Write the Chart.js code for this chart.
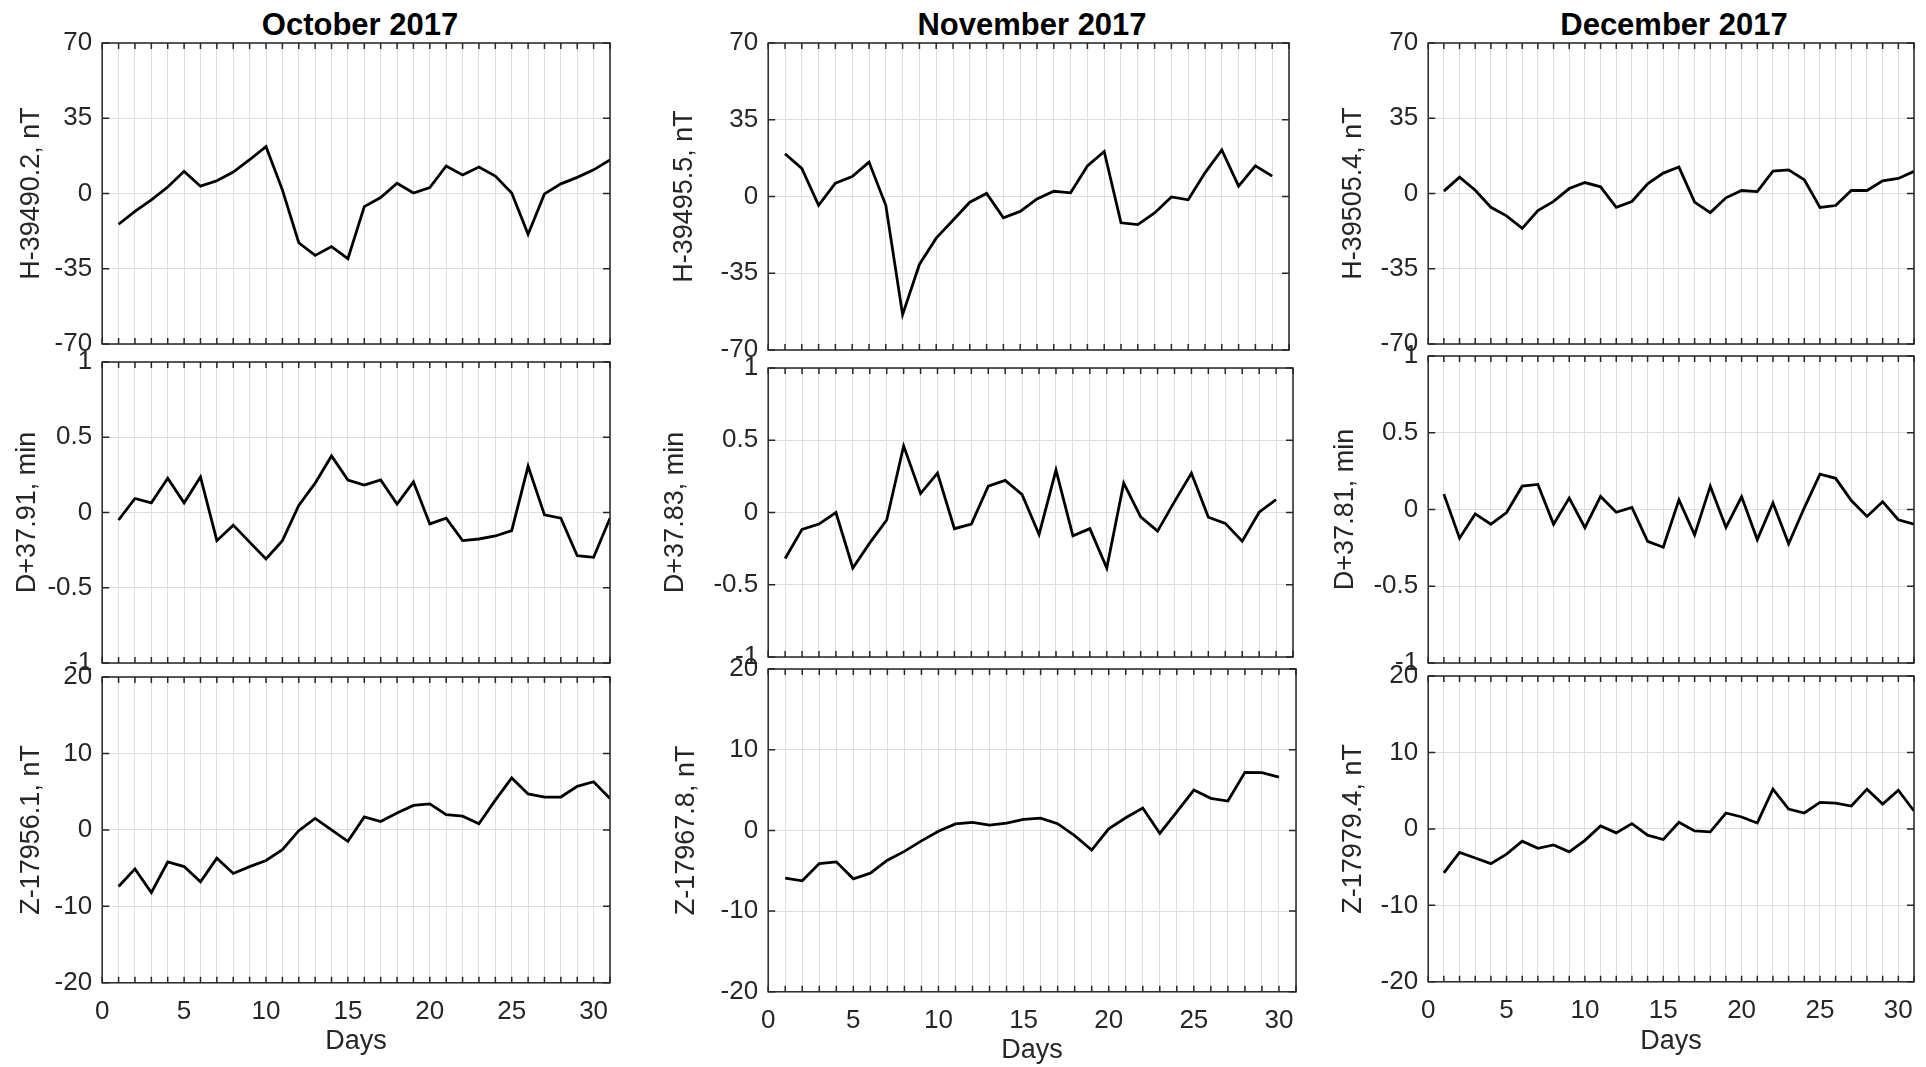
<!DOCTYPE html>
<html>
  <head>
    <title>Geomagnetic field, October - December 2017</title>
    <meta charset="utf-8">
    <style>
      body { margin: 0; background: #fff; width: 1926px; height: 1067px; position: relative; overflow: hidden;
             font-family: "Liberation Sans", Arial, sans-serif; }
      canvas { position: absolute; }
      .month { position: absolute; font-weight: bold; font-size: 31px; color: #000;
               transform: translate(-50%, -50%); white-space: nowrap; }
    </style>
  </head>
  <body>
    <div class="month" style="left:360px; top:25px">October 2017</div>
    <div class="month" style="left:1032px; top:25px">November 2017</div>
    <div class="month" style="left:1674px; top:25px">December 2017</div>

    <script src="https://cdn.jsdelivr.net/npm/chart.js"></script>
    <script>
      // days of each month
      const octDays = [1,2,3,4,5,6,7,8,9,10,11,12,13,14,15,16,17,18,19,20,21,22,23,24,25,26,27,28,29,30,31];
      const novDays = [1,2,3,4,5,6,7,8,9,10,11,12,13,14,15,16,17,18,19,20,21,22,23,24,25,26,27,28,29,30];
      const decDays = [1,2,3,4,5,6,7,8,9,10,11,12,13,14,15,16,17,18,19,20,21,22,23,24,25,26,27,28,29,30,31];

      // ticks
      const dayTicks = [0,1,2,3,4,5,6,7,8,9,10,11,12,13,14,15,16,17,18,19,20,21,22,23,24,25,26,27,28,29,30,31];
      const dayLabels = [0,5,10,15,20,25,30];
      const hTicks = [-70,-35,0,35,70];
      const dTicks = [-1,-0.5,0,0.5,1];
      const zTicks = [-20,-10,0,10,20];

      // H, nT
      const octH = [-14.3,-8.3,-3,3,10.3,3.4,5.9,10,15.7,21.8,1.7,-22.9,-28.8,-24.7,-30.3,-6.1,-1.9,4.8,0.2,2.8,12.8,8.6,12.3,8.1,0.2,-19,-0.2,4.5,7.5,11,15.6];
      const novH = [19.5,12.8,-4,6.1,9.1,15.7,-4,-53.9,-31,-19,-10.8,-2.6,1.4,-9.7,-6.8,-1.1,2.4,1.7,13.9,20.5,-12,-12.8,-7.5,-0.2,-1.5,10.8,21.2,4.7,14,9.3];
      const decH = [1.1,7.6,1.5,-6.4,-10.4,-16.2,-7.9,-3.7,2.3,5.1,3.1,-6.4,-3.7,4.5,9.5,12.3,-4,-8.9,-2,1.4,0.9,10.4,11,6.4,-6.5,-5.6,1.4,1.4,5.9,7,10.3];

      // D, min
      const octD = [-0.05,0.093,0.064,0.227,0.064,0.236,-0.187,-0.084,-0.197,-0.309,-0.187,0.047,0.195,0.376,0.216,0.182,0.216,0.056,0.204,-0.076,-0.038,-0.187,-0.176,-0.156,-0.12,0.307,-0.016,-0.038,-0.287,-0.298,-0.038];
      const novD = [-0.318,-0.117,-0.08,0,-0.384,-0.21,-0.052,0.461,0.131,0.272,-0.112,-0.08,0.183,0.222,0.124,-0.152,0.293,-0.162,-0.112,-0.384,0.204,-0.03,-0.129,0.075,0.272,-0.033,-0.075,-0.199,0.002,0.089];
      const decD = [0.1,-0.187,-0.029,-0.096,-0.02,0.152,0.163,-0.096,0.074,-0.118,0.085,-0.018,0.013,-0.208,-0.246,0.063,-0.165,0.152,-0.116,0.083,-0.196,0.042,-0.223,0.011,0.23,0.203,0.058,-0.045,0.051,-0.067,-0.096];

      // Z, nT
      const octZ = [-7.4,-5.1,-8.2,-4.2,-4.8,-6.8,-3.7,-5.7,-4.8,-4,-2.6,-0.1,1.5,0,-1.5,1.7,1.1,2.2,3.2,3.4,2,1.8,0.8,3.9,6.8,4.7,4.3,4.3,5.7,6.3,4.1];
      const novZ = [-5.9,-6.25,-4.1,-3.9,-6,-5.3,-3.7,-2.6,-1.3,-0.1,0.8,1,0.66,0.9,1.37,1.53,0.83,-0.66,-2.44,0.2,1.57,2.77,-0.37,2.3,5,3.97,3.64,7.2,7.16,6.6];
      const decZ = [-5.76,-3.07,-3.8,-4.55,-3.3,-1.6,-2.55,-2.1,-3,-1.5,0.39,-0.52,0.69,-0.82,-1.39,0.87,-0.26,-0.39,2.08,1.56,0.78,5.2,2.6,2.08,3.46,3.38,2.99,5.2,3.25,5.06,2.34];

      // layout: plot box [left, top, right, bottom], centre of y title, centre of "Days"
      const panels = [
        { days: octDays, values: octH, ticks: hTicks, label: 'H-39490.2, nT', box: [102, 43, 617, 344], labelX: 31 },
        { days: octDays, values: octD, ticks: dTicks, label: 'D+37.91, min',  box: [102, 362, 617, 663], labelX: 27 },
        { days: octDays, values: octZ, ticks: zTicks, label: 'Z-17956.1, nT', box: [102, 677, 617, 983], labelX: 31, daysY: 1042 },
        { days: novDays, values: novH, ticks: hTicks, label: 'H-39495.5, nT', box: [768, 43, 1296, 350], labelX: 684 },
        { days: novDays, values: novD, ticks: dTicks, label: 'D+37.83, min',  box: [768, 368, 1300, 657], labelX: 675 },
        { days: novDays, values: novZ, ticks: zTicks, label: 'Z-17967.8, nT', box: [768, 669, 1303, 992], labelX: 686, daysY: 1051 },
        { days: decDays, values: decH, ticks: hTicks, label: 'H-39505.4, nT', box: [1428, 43, 1921, 344], labelX: 1353 },
        { days: decDays, values: decD, ticks: dTicks, label: 'D+37.81, min',  box: [1428, 356, 1921, 663], labelX: 1345 },
        { days: decDays, values: decZ, ticks: zTicks, label: 'Z-17979.4, nT', box: [1428, 676, 1921, 982], labelX: 1353, daysY: 1042 }
      ];

      Chart.defaults.font.family = '"Liberation Sans", Arial, sans-serif';
      Chart.defaults.color = '#262626';

      const tickSize = 26;
      const labelSize = 27;
      const half = labelSize * 1.2 / 2;
      const gridColor = '#dedede';

      // matlab style box with inward ticks
      const frame = {
        id: 'frame',
        afterDraw(chart) {
          const {ctx, chartArea: a, scales} = chart;
          ctx.save();
          ctx.strokeStyle = '#262626';
          ctx.lineWidth = 1.5;
          ctx.beginPath();
          scales.x.ticks.forEach(t => {
            const px = scales.x.getPixelForValue(t.value);
            ctx.moveTo(px, a.bottom); ctx.lineTo(px, a.bottom - 6);
            ctx.moveTo(px, a.top); ctx.lineTo(px, a.top + 6);
          });
          scales.y.ticks.forEach(t => {
            const py = scales.y.getPixelForValue(t.value);
            ctx.moveTo(a.left, py); ctx.lineTo(a.left + 7, py);
            ctx.moveTo(a.right, py); ctx.lineTo(a.right - 7, py);
          });
          ctx.stroke();
          ctx.strokeRect(a.left, a.top, a.right - a.left, a.bottom - a.top);
          ctx.restore();
        }
      };

      panels.forEach(p => {
        const [x0, y0, x1, y1] = p.box;
        const bottomRow = p.daysY !== undefined;
        const L = x0 - p.labelX + half;
        // y tick labels need about 26px above and below the plot box
        const T = 30, R = 6;
        const B = bottomRow ? p.daysY + half - y1 : 30;

        const canvas = document.createElement('canvas');
        canvas.width = L + (x1 - x0) + R;
        canvas.height = T + (y1 - y0) + B;
        canvas.style.left = (x0 - L) + 'px';
        canvas.style.top = (y0 - T) + 'px';
        document.body.appendChild(canvas);

        new Chart(canvas, {
          type: 'line',
          data: {
            datasets: [{
              data: p.days.map((d, i) => ({ x: d, y: p.values[i] })),
              borderColor: '#000',
              borderWidth: 2.8,
              pointRadius: 0,
              tension: 0,
              fill: false
            }]
          },
          options: {
            responsive: false,
            animation: false,
            layout: { padding: { top: T, right: R, left: 0, bottom: 0 } },
            plugins: { legend: { display: false }, tooltip: { enabled: false } },
            scales: {
              x: {
                type: 'linear',
                min: 0,
                max: 31,
                afterBuildTicks: s => { s.ticks = dayTicks.map(v => ({ value: v })); },
                afterFit: s => { s.height = B; },
                grid: { color: gridColor, lineWidth: 1, drawTicks: false },
                border: { display: false },
                ticks: {
                  autoSkip: false,
                  maxRotation: 0,
                  padding: 13,
                  font: { size: tickSize },
                  callback: v => (bottomRow && dayLabels.includes(v)) ? String(v) : ''
                },
                title: { display: bottomRow, text: 'Days', padding: 0, font: { size: labelSize } }
              },
              y: {
                type: 'linear',
                min: p.ticks[0],
                max: p.ticks[p.ticks.length - 1],
                afterBuildTicks: s => { s.ticks = p.ticks.map(v => ({ value: v })); },
                afterFit: s => { s.width = L; },
                grid: { color: gridColor, lineWidth: 1, drawTicks: false },
                border: { display: false },
                ticks: { padding: 10, font: { size: tickSize }, callback: v => String(v) },
                title: { display: true, text: p.label, padding: 0, font: { size: labelSize } }
              }
            }
          },
          plugins: [frame]
        });
      });
    </script>
  </body>
</html>
